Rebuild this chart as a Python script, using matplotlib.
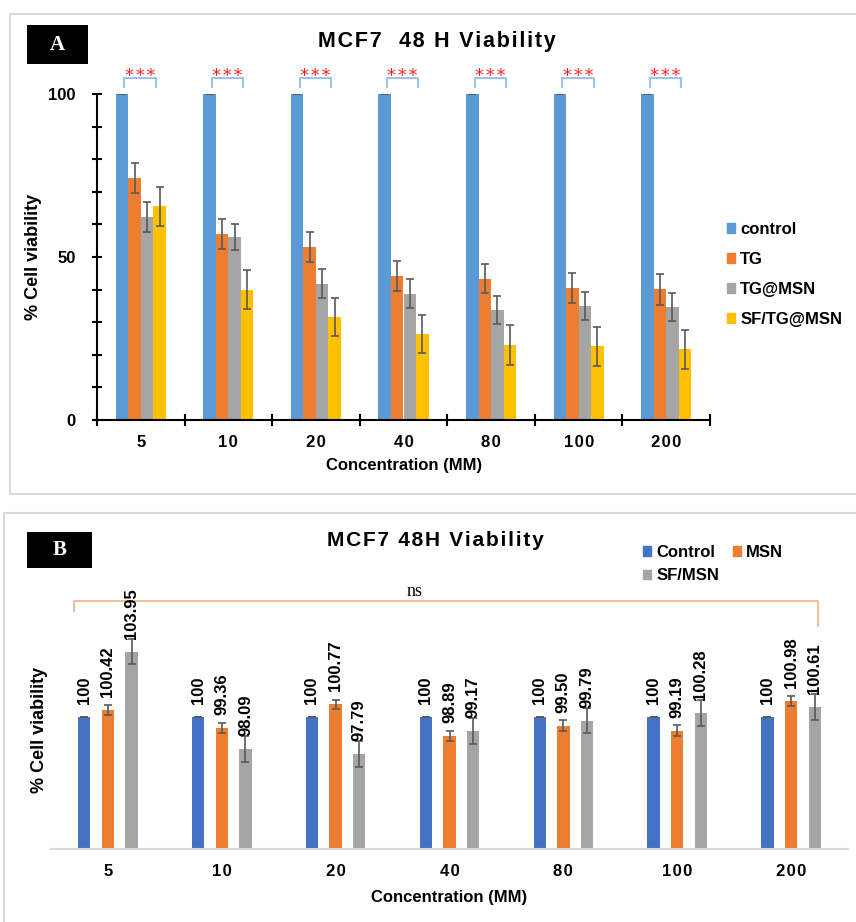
import numpy as np
import matplotlib.pyplot as plt
from matplotlib.patches import Rectangle, Patch
from matplotlib.lines import Line2D

W, H = 856, 922
plt.rcParams['font.family'] = ['Liberation Sans', 'DejaVu Sans']

conc = ['5', '10', '20', '40', '80', '100', '200']

# panel A - TG series
a_names = ['control', 'TG', 'TG@MSN', 'SF/TG@MSN']
a_control = [100, 100, 100, 100, 100, 100, 100]
a_control_err = [0, 0, 0, 0, 0, 0, 0]
a_tg = [74.2, 57.1, 53.0, 44.2, 43.4, 40.5, 40.1]
a_tg_err = [4.7, 4.6, 4.6, 4.7, 4.5, 4.7, 4.7]
a_tgmsn = [62.3, 56.1, 41.8, 38.8, 33.7, 35.0, 34.6]
a_tgmsn_err = [4.5, 4.1, 4.4, 4.5, 4.4, 4.3, 4.3]
a_sf = [65.6, 39.9, 31.5, 26.4, 23.0, 22.6, 21.7]
a_sf_err = [6.0, 6.0, 5.8, 5.8, 6.0, 6.0, 6.0]
a_colors = ['#5b9bd5', '#ed7d31', '#a5a5a5', '#ffc000']

# panel B - MSN series
b_names = ['Control', 'MSN', 'SF/MSN']
b_control = [100, 100, 100, 100, 100, 100, 100]
b_control_err = [0, 0, 0, 0, 0, 0, 0]
b_msn = [100.42, 99.36, 100.77, 98.89, 99.50, 99.19, 100.98]
b_msn_err = [0.30, 0.32, 0.30, 0.30, 0.32, 0.34, 0.30]
b_sfmsn = [103.95, 98.09, 97.79, 99.17, 99.79, 100.28, 100.61]
b_sfmsn_err = [0.74, 0.78, 0.80, 0.76, 0.76, 0.78, 0.80]
b_colors = ['#4472c4', '#ed7d31', '#a5a5a5']

fig = plt.figure(figsize=(W / 100, H / 100), dpi=100)


def px_axes(x0, y0, x1, y1):
    return fig.add_axes([x0 / W, 1 - y1 / H, (x1 - x0) / W, (y1 - y0) / H])


def ftext(x, y, s, **kw):
    return fig.text(x / W, 1 - y / H, s, ha='center', va='center', **kw)


def fline(xs, ys, **kw):
    fig.add_artist(Line2D([v / W for v in xs], [1 - v / H for v in ys],
                          transform=fig.transFigure, **kw))


def spaced(s, sep):
    return sep.join(s)


# panel frames (open on the cut sides)
fline([870, 10, 10, 870], [14, 14, 494, 494], color='#d9d9d9', lw=1.5)
fline([4, 4, 870], [940, 513, 513], color='#d9d9d9', lw=1.5)
fig.patches.append(Rectangle((27 / W, 1 - 64 / H), 61 / W, 39 / H, fc='black',
                             transform=fig.transFigure))
fig.patches.append(Rectangle((27 / W, 1 - 568 / H), 65 / W, 36 / H, fc='black',
                             transform=fig.transFigure))
ftext(57.5, 45, 'A', color='white', family='Liberation Serif', fontweight='bold', fontsize=15)
ftext(59.5, 550, 'B', color='white', family='Liberation Serif', fontweight='bold', fontsize=15)

# ---------------- panel A ----------------
axA = px_axes(97, 94, 710, 420)
x = np.arange(len(conc))
w = 0.143
ekw = dict(ecolor='#595959', elinewidth=1.2, capsize=3, capthick=1.2)
a_vals = [a_control, a_tg, a_tgmsn, a_sf]
a_errs = [a_control_err, a_tg_err, a_tgmsn_err, a_sf_err]
for k in range(4):
    axA.bar(x + (k - 1.5) * w, a_vals[k], w, yerr=a_errs[k], color=a_colors[k],
            error_kw=ekw, label=a_names[k])

axA.set_xlim(-0.5, 6.5)
axA.set_ylim(0, 100)
for s in ['top', 'right']:
    axA.spines[s].set_visible(False)
for s in ['left', 'bottom']:
    axA.spines[s].set_linewidth(1.5)
axA.set_yticks([0, 50, 100])
axA.set_yticks(np.arange(0, 101, 10), minor=True)
axA.set_yticklabels(['0', '50', '100'], fontsize=12, fontweight='bold')
axA.tick_params(axis='y', which='both', direction='inout', length=7, width=1.5, pad=12)
axA.set_xticks(x)
axA.set_xticklabels([spaced(c, '\u200a') for c in conc], fontsize=12, fontweight='bold')
axA.set_xticks(np.arange(-0.5, 7, 1), minor=True)
axA.tick_params(axis='x', which='major', length=0, pad=11)
axA.tick_params(axis='x', which='minor', direction='inout', length=8, width=1.5)

# significance brackets
for i in x:
    xl, xr = i - 0.186, i + 0.171
    axA.plot([xl, xl, xr, xr], [102.2, 105, 105, 102.2], color='#9dc3e6', lw=1.5,
             clip_on=False)
    axA.text(i - 0.01, 104.0, spaced('***', '\u200a'), color='#ff2020', fontsize=13,
             family='DejaVu Sans', ha='center', va='baseline', clip_on=False)

ftext(437, 42, spaced('MCF7  48 H Viability', '\u200a'), fontsize=15.5, fontweight='bold')
ftext(33, 257, '% Cell viability', rotation=90, fontsize=13, fontweight='bold')
ftext(404, 465, 'Concentration (MM)', fontsize=12, fontweight='bold')

hA = [Patch(color=c) for c in a_colors]
fig.legend(hA, a_names, loc='upper left', bbox_to_anchor=(727 / W, 1 - 222 / H),
           frameon=False, borderpad=0, borderaxespad=0, handlelength=0.5,
           handleheight=0.5, handletextpad=0.3, labelspacing=0.9,
           prop=dict(size=12, weight='bold'))

# ---------------- panel B ----------------
axB = px_axes(51, 601, 848, 849)
wb = 0.108
db = 0.208
b_vals = [b_control, b_msn, b_sfmsn]
b_errs = [b_control_err, b_msn_err, b_sfmsn_err]
for k in range(3):
    axB.bar(x + (k - 1) * db, b_vals[k], wb, yerr=b_errs[k], color=b_colors[k],
            error_kw=ekw, label=b_names[k])
    for i in x:
        v = b_vals[k][i]
        txt = '100' if v == 100 else '%.2f' % v
        axB.annotate(txt, (i + (k - 1) * db, v), xytext=(0, 9.4),
                     textcoords='offset points', rotation=90, ha='center', va='bottom',
                     fontsize=12, fontweight='bold', annotation_clip=False)

axB.set_xlim(-0.5, 6.5)
axB.set_ylim(92.07, 107.0)
for s in ['top', 'right', 'left']:
    axB.spines[s].set_visible(False)
axB.spines['bottom'].set_color('#d9d9d9')
axB.spines['bottom'].set_linewidth(1.5)
axB.set_yticks([])
axB.set_xticks(x)
axB.set_xticklabels([spaced(c, '\u200a') for c in conc], fontsize=12, fontweight='bold')
axB.tick_params(axis='x', length=0, pad=11)

axB.plot([-0.30, -0.30, 6.24, 6.24], [106.4, 107.0, 107.0, 105.5], color='#f4b183',
         lw=1.2, clip_on=False)
axB.text(2.69, 107.3, 'ns', family='Liberation Serif', fontsize=13, ha='center',
         va='baseline', clip_on=False)

ftext(435, 540, spaced('MCF7 48H Viability', '\u200a'), fontsize=15, fontweight='bold')
ftext(40, 730, '% Cell viability', rotation=90, fontsize=13, fontweight='bold')
ftext(449, 897, 'Concentration (MM)', fontsize=12, fontweight='bold')

hB = [Patch(color=b_colors[0]), Patch(color=b_colors[2]), Patch(color=b_colors[1])]
fig.legend(hB, [b_names[0], b_names[2], b_names[1]], ncol=2, loc='upper left',
           bbox_to_anchor=(643 / W, 1 - 545 / H), frameon=False, borderpad=0,
           borderaxespad=0, handlelength=0.5, handleheight=0.5, handletextpad=0.3,
           labelspacing=0.5, columnspacing=0.82, prop=dict(size=12, weight='bold'))

fig.savefig('out.png', dpi=100)
